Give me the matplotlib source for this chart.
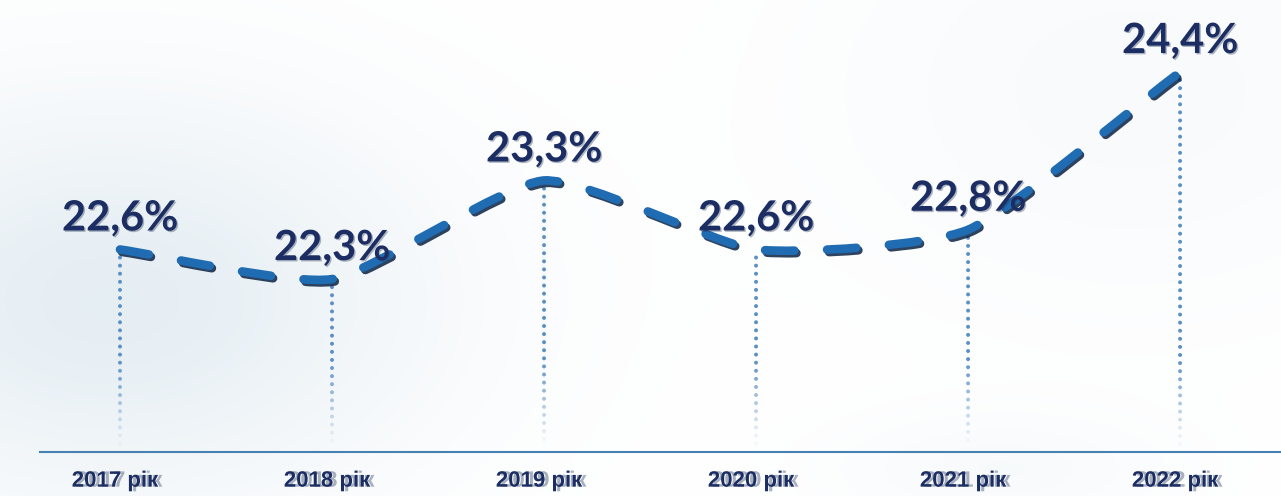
import numpy as np
import matplotlib
matplotlib.use("Agg")
import matplotlib.pyplot as plt
import matplotlib.patheffects as pe
from matplotlib.path import Path
from matplotlib.patches import PathPatch

years = ["2017", "2018", "2019", "2020", "2021", "2022"]
values = [22.6, 22.3, 23.3, 22.6, 22.8, 24.4]
value_labels = ["22,6%", "22,3%", "23,3%", "22,6%", "22,8%", "24,4%"]
year_labels = [y + " рік" for y in years]

NAVY = "#1b2d63"
LINE_BLUE = "#1f6cb3"
DOT_BLUE = "#5b8fc6"
AXIS_Y = 20.545     # horizontal base line
DROP_END = 20.62    # dotted drop lines stop here
FADE_TOP = 21.5     # drop lines start fading below this


def smooth_path(xs, ys, k=0.55):
    # cubic bezier through the points (catmull-rom style tangents)
    pts = np.column_stack([xs, ys]).astype(float)
    tang = np.zeros_like(pts)
    tang[1:-1] = (pts[2:] - pts[:-2]) / 2
    tang[0] = pts[1] - pts[0]
    tang[-1] = pts[-1] - pts[-2]
    verts = [pts[0]]
    codes = [Path.MOVETO]
    for i in range(len(pts) - 1):
        verts += [pts[i] + tang[i] * k / 3, pts[i + 1] - tang[i + 1] * k / 3, pts[i + 1]]
        codes += [Path.CURVE4] * 3
    return Path(verts, codes)


fig = plt.figure(figsize=(12.81, 4.96), dpi=100)
fig.patch.set_facecolor("white")

# soft bluish glows in the background
H, W = 496, 1281
yy, xx = np.mgrid[0:H, 0:W]


def glow(cx, cy, sx, sy, a):
    return a * np.exp(-(((xx - cx) / sx) ** 2 + ((yy - cy) / sy) ** 2) / 2)


g = glow(110, 300, 220, 140, 0.55) + glow(1130, 90, 220, 150, 0.15) + glow(1000, 470, 120, 40, 0.15)
g = np.clip(g, 0, 1)
tint = np.array([0.82, 0.88, 0.92])
img = 1 - g[..., None] * (1 - tint)
bg = fig.add_axes([0, 0, 1, 1])
bg.imshow(img, aspect="auto", interpolation="bilinear")
bg.axis("off")

ax = fig.add_axes([0, 0, 1, 1])
ax.patch.set_alpha(0)
ax.set_xlim(-0.566, 5.476)
ax.set_ylim(20.10, 25.13)
ax.axis("off")

x = np.arange(len(years))

# dotted drop lines, fading towards the bottom
step = 0.082
for xi, v in zip(x, values):
    ys = np.arange(v - step, DROP_END, -step)
    a = np.clip((ys - DROP_END) / (FADE_TOP - DROP_END), 0.05, 1)
    cols = np.tile(matplotlib.colors.to_rgba(DOT_BLUE), (len(ys), 1))
    cols[:, 3] = a
    ax.scatter(np.full(len(ys), xi), ys, s=8, c=cols, linewidths=0, zorder=2)

ax.axhline(AXIS_Y, xmin=40 / 1281, xmax=1, color="#4582b3", lw=1.5, zorder=2)

line = PathPatch(smooth_path(x, values), fill=False, edgecolor=LINE_BLUE, lw=6.2,
                 linestyle=(0, (3.4, 3.8)), capstyle="round", joinstyle="round", zorder=3,
                 path_effects=[pe.SimpleLineShadow(offset=(1.5, -1.8), shadow_color="#0a2244", alpha=0.85),
                               pe.Normal()])
ax.add_patch(line)

for xi, v, lab in zip(x, values, value_labels):
    ax.annotate(lab, (xi, v), xytext=(0, 19), textcoords="offset pixels",
                ha="center", va="baseline", fontsize=30, fontweight="bold",
                family="Lato", color=NAVY, zorder=4,
                path_effects=[pe.withSimplePatchShadow(offset=(1, -1), shadow_rgbFace="#203050", alpha=0.35)])

for xi, lab in zip(x, year_labels):
    ax.annotate(lab, (xi, AXIS_Y), xytext=(-5, -29), textcoords="offset pixels",
                ha="center", va="center", fontsize=16, fontweight="bold",
                family="Liberation Sans", color=NAVY, zorder=4,
                path_effects=[pe.withSimplePatchShadow(offset=(3, 0), shadow_rgbFace="#8c96a8", alpha=0.75)])

fig.savefig("out.png", dpi=100)
